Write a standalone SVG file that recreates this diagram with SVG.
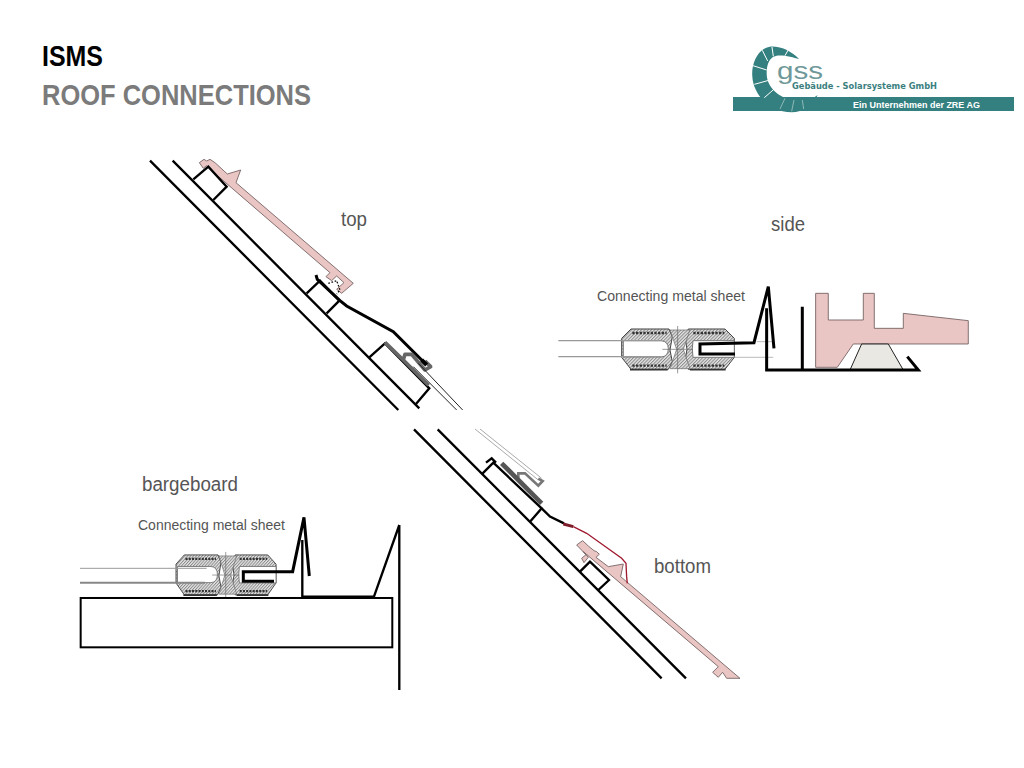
<svg xmlns="http://www.w3.org/2000/svg" width="1024" height="768" viewBox="0 0 1024 768">
<style>
text{font-family:"Liberation Sans",Arial,sans-serif}
.lb{fill:#555}
.k{fill:none;stroke:#000;stroke-width:7;stroke-linejoin:miter}
.k2{fill:none;stroke:#000;stroke-width:9;stroke-linejoin:miter}
.g{fill:none;stroke:#666;stroke-width:11;stroke-linejoin:round}
.thin{fill:none;stroke:#222;stroke-width:3}
.lg{fill:none;stroke:#bbb;stroke-width:3}
.pink{fill:#e9c5c4;stroke:#6e5a5a;stroke-width:2.500}
.ring{fill:none;stroke:#fff;stroke-width:3}
</style>
<defs>
<pattern id="hatch" width="7" height="7" patternUnits="userSpaceOnUse" patternTransform="rotate(45)">
<rect width="7" height="7" fill="#e4e4e4"/><rect width="3" height="7" fill="#8a8a8a"/>
</pattern>
<g id="joint">
<path d="M200,55L228,27H342L352,50L345,90L352,125L340,148H228L200,112Z" fill="url(#hatch)" stroke="#444" stroke-width="3"/>
<path d="M400,27H510L538,55V112L510,148H400L390,122L396,88L390,50Z" fill="url(#hatch)" stroke="#444" stroke-width="3"/>
<path d="M345,30H405L385,88L405,146H345L365,88Z" fill="url(#hatch)" stroke="#666" stroke-width="2"/>
<path d="M205,62H318Q340,64 340,86Q340,110 318,111H205Z" fill="#fff" stroke="#777" stroke-width="3"/>
<path d="M414,62H538V112H414Q410,86 414,62Z" fill="#fff" stroke="#777" stroke-width="3"/>
<path d="M232,39H335M232,137H335M415,39H508M415,137H508" fill="none" stroke="#333" stroke-width="7" stroke-dasharray="7 4"/>
<path d="M225,149H338M405,149H512" fill="none" stroke="#333" stroke-width="5"/>
<path d="M368,18V160M322,88H414" fill="none" stroke="#666" stroke-width="2"/>
</g>
</defs>

<g id="title">
<text x="42" y="66" font-size="30" font-weight="bold" fill="#000" textLength="61" lengthAdjust="spacingAndGlyphs">ISMS</text>
<text x="42" y="105" font-size="30" font-weight="bold" fill="#7b7b7b" textLength="269" lengthAdjust="spacingAndGlyphs">ROOF CONNECTIONS</text>
</g>

<g id="logo">
<rect x="733" y="97" width="281" height="14" fill="#348080"/>
<g transform="translate(725 35) scale(.3333)">
<path d="M222,72C200,50 170,33 135,35C100,40 78,85 82,125C85,175 130,232 200,232C235,232 265,210 278,180C260,195 235,200 205,195C165,190 125,160 125,115C125,85 135,65 155,62C180,60 205,68 222,72Z" fill="#348080"/>
<path class="ring" d="M141,36L145,64M112,46L128,78M84,92L125,105M88,148L135,135M118,188L150,160M190,44L180,62"/>
<path d="M165,222L180,190M200,229L207,195M236,222L232,195" fill="none" stroke="#8fb8b8" stroke-width="3"/>
</g>
<text x="777" y="79" font-size="24" fill="#6f9999" textLength="46" lengthAdjust="spacingAndGlyphs">gss</text>
<text x="792" y="88.500" font-size="8.500" font-weight="bold" fill="#3c7f7f" textLength="145" lengthAdjust="spacingAndGlyphs" style="font-family:'DejaVu Sans',sans-serif">Gebäude - Solarsysteme GmbH</text>
<text x="853" y="107.500" font-size="8.500" font-weight="bold" fill="#fff" textLength="127" lengthAdjust="spacingAndGlyphs">Ein Unternehmen der ZRE AG</text>
</g>

<g id="top-detail" transform="translate(140 150) scale(.3333)">
<path class="k" d="M30,32L775,780M98,32L838,775"/>
<path class="pink" d="M178,38L192,28L200,33L210,28L225,38L262,72L302,60L288,98L640,400L605,430L590,418L612,398L590,378L575,392L558,380L570,368L215,62L200,47L190,55Z"/>
<path class="k" d="M160,88L205,50L260,110L220,150"/>
<path class="k" d="M500,430L540,392L598,452L560,490"/>
<path class="k" d="M688,622L735,580L868,715L828,762"/>
<path d="M565,400L590,392L600,420L590,432" fill="none" stroke="#111" stroke-width="4" stroke-dasharray="5 5"/>
<path class="k2" d="M528,375L532,388L600,452L620,468L760,545L855,640"/>
<path class="g" d="M735,577L790,630L795,613L815,613L855,660L872,650L855,633M790,630L866,706"/>
<path d="M845,630L860,645" stroke="#000" stroke-width="12" fill="none"/>
<path class="thin" d="M820,650L950,780M835,640L968,780"/>
</g>

<g id="side-detail">
<g transform="translate(555 320) scale(.3333)">
<use href="#joint"/>
<path d="M10,62H320M10,110H320" fill="none" stroke="#999" stroke-width="4"/>
</g>
<g transform="translate(550 280) scale(.3333)">
<path class="lg" d="M620,185H670M555,232H670"/>
<path class="pink" d="M797,40H835V120H940V40H973V145H1060V100L1255,122V192H910L862,262H797Z"/>
<path d="M935,192H1015L1060,270H900Z" fill="#e9e8e3" stroke="#222" stroke-width="3"/>
<path class="k2" d="M555,222H450V192L612,188L655,20L672,205"/>
<path class="k2" d="M650,85V270H1105L1072,230M757,80V270"/>
</g>
</g>

<g id="bottom-detail" transform="translate(410 420) scale(.3333)">
<path class="k" d="M12,28L755,775M83,28L828,775"/>
<path class="lg" style="stroke:#aaa" d="M195,27L385,180M210,27L395,175"/>
<path d="M325,175V160H345L385,197L398,183L385,176" fill="none" stroke="#777" stroke-width="8"/>
<path d="M275,130L395,250" stroke="#555" stroke-width="14" fill="none"/>
<path class="pink" d="M500,375L518,362L535,378L552,392L560,395L568,403L558,412L595,440L640,432L632,470L990,775H950L938,757L925,772L908,757L925,740L520,395L535,412L522,428L515,415L528,404Z"/>
<path class="k" d="M510,455L540,425L597,480L565,510"/>
<path class="k" d="M218,160L250,128L395,265L360,305M228,128L245,115L258,128"/>
<path class="k" d="M395,265L420,290L462,310"/>
<path d="M460,312L490,320" stroke="#7d1c2a" stroke-width="9" fill="none"/>
<path d="M490,320L530,340L635,415L648,430L650,470L652,490" fill="none" stroke="#a01a30" stroke-width="4"/>
</g>

<g id="bargeboard-detail">
<use href="#joint" transform="translate(116.800 546) scale(.296 .33)"/>
<g transform="translate(70 510) scale(.3333)">
<path d="M30,175H410" fill="none" stroke="#999" stroke-width="3"/>
<path d="M30,218H405" fill="none" stroke="#888" stroke-width="6"/>
<rect x="32" y="264" width="935" height="148" fill="#fff" stroke="#000" stroke-width="6"/>
<path class="k" d="M988,45V540M988,45L912,260H697V90"/>
<path class="k2" d="M612,214H520V185H668L702,22L718,198"/>
</g>
</g>

<g id="labels">
<text class="lb" x="341" y="226" font-size="20" textLength="26" lengthAdjust="spacingAndGlyphs">top</text>
<text class="lb" x="771" y="231" font-size="20" textLength="34" lengthAdjust="spacingAndGlyphs">side</text>
<text class="lb" x="654" y="573" font-size="20" textLength="57" lengthAdjust="spacingAndGlyphs">bottom</text>
<text class="lb" x="142" y="491" font-size="20" textLength="96" lengthAdjust="spacingAndGlyphs">bargeboard</text>
<text class="lb" x="597" y="301" font-size="15.500" textLength="148" lengthAdjust="spacingAndGlyphs">Connecting metal sheet</text>
<text class="lb" x="138" y="530" font-size="15.500" textLength="147" lengthAdjust="spacingAndGlyphs">Connecting metal sheet</text>
</g>
</svg>
